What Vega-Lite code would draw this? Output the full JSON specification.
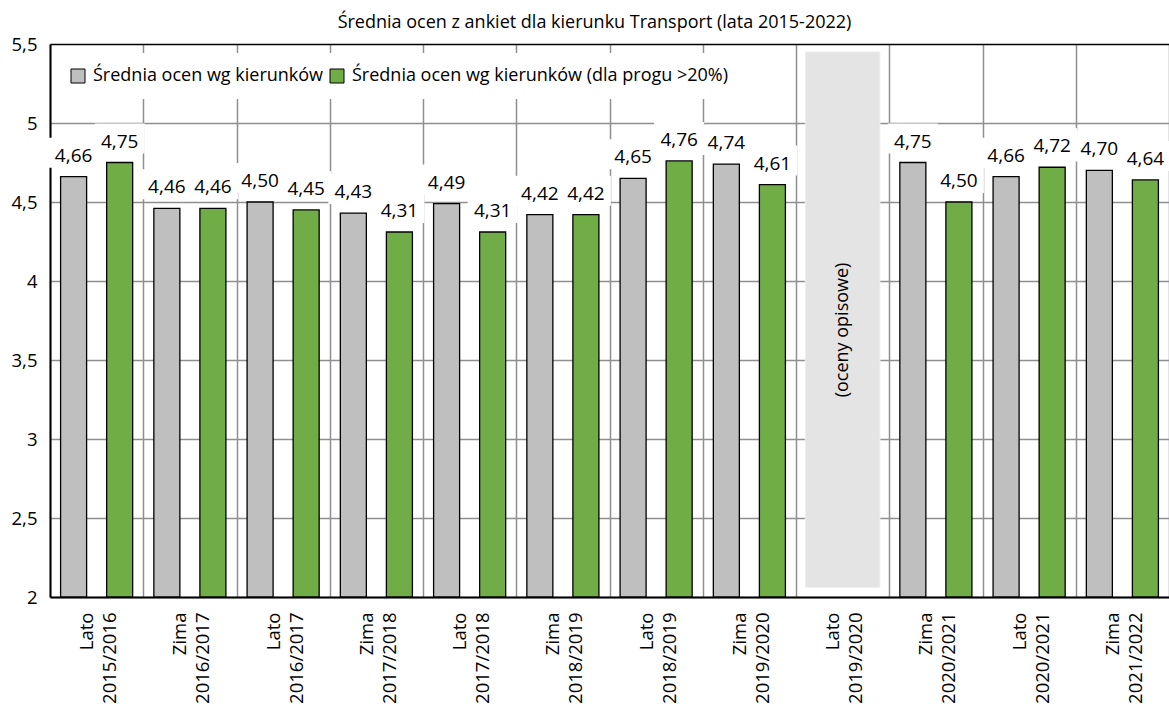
{
  "$schema": "https://vega.github.io/schema/vega-lite/v6.json",
  "autosize": "none",
  "width": 1119,
  "height": 553,
  "padding": {"left": 50, "top": 44, "right": 0, "bottom": 110},
  "background": "white",
  "title": {
    "text": "Średnia ocen z ankiet dla kierunku Transport (lata 2015-2022)",
    "font": "Open Sans",
    "fontSize": 18,
    "fontWeight": "normal",
    "color": "black",
    "anchor": "middle",
    "offset": 3,
    "dx": -15
  },
  "config": {
    "locale": {"number": {"decimal": ",", "thousands": " ", "grouping": [3], "currency": ["", ""]}},
    "view": {"stroke": null},
    "font": "Open Sans"
  },
  "data": {
    "values": [
      {"cat": "Lato 2015/2016", "series": "Średnia ocen wg kierunków", "value": 4.66},
      {"cat": "Lato 2015/2016", "series": "Średnia ocen wg kierunków (dla progu >20%)", "value": 4.75},
      {"cat": "Zima 2016/2017", "series": "Średnia ocen wg kierunków", "value": 4.46},
      {"cat": "Zima 2016/2017", "series": "Średnia ocen wg kierunków (dla progu >20%)", "value": 4.46},
      {"cat": "Lato 2016/2017", "series": "Średnia ocen wg kierunków", "value": 4.50},
      {"cat": "Lato 2016/2017", "series": "Średnia ocen wg kierunków (dla progu >20%)", "value": 4.45},
      {"cat": "Zima 2017/2018", "series": "Średnia ocen wg kierunków", "value": 4.43},
      {"cat": "Zima 2017/2018", "series": "Średnia ocen wg kierunków (dla progu >20%)", "value": 4.31},
      {"cat": "Lato 2017/2018", "series": "Średnia ocen wg kierunków", "value": 4.49},
      {"cat": "Lato 2017/2018", "series": "Średnia ocen wg kierunków (dla progu >20%)", "value": 4.31},
      {"cat": "Zima 2018/2019", "series": "Średnia ocen wg kierunków", "value": 4.42},
      {"cat": "Zima 2018/2019", "series": "Średnia ocen wg kierunków (dla progu >20%)", "value": 4.42},
      {"cat": "Lato 2018/2019", "series": "Średnia ocen wg kierunków", "value": 4.65},
      {"cat": "Lato 2018/2019", "series": "Średnia ocen wg kierunków (dla progu >20%)", "value": 4.76},
      {"cat": "Zima 2019/2020", "series": "Średnia ocen wg kierunków", "value": 4.74},
      {"cat": "Zima 2019/2020", "series": "Średnia ocen wg kierunków (dla progu >20%)", "value": 4.61},
      {"cat": "Zima 2020/2021", "series": "Średnia ocen wg kierunków", "value": 4.75},
      {"cat": "Zima 2020/2021", "series": "Średnia ocen wg kierunków (dla progu >20%)", "value": 4.50},
      {"cat": "Lato 2020/2021", "series": "Średnia ocen wg kierunków", "value": 4.66},
      {"cat": "Lato 2020/2021", "series": "Średnia ocen wg kierunków (dla progu >20%)", "value": 4.72},
      {"cat": "Zima 2021/2022", "series": "Średnia ocen wg kierunków", "value": 4.70},
      {"cat": "Zima 2021/2022", "series": "Średnia ocen wg kierunków (dla progu >20%)", "value": 4.64}
    ]
  },
  "encoding": {
    "x": {
      "field": "cat",
      "type": "nominal",
      "title": null,
      "sort": null,
      "scale": {
        "domain": ["Lato 2015/2016", "Zima 2016/2017", "Lato 2016/2017", "Zima 2017/2018", "Lato 2017/2018", "Zima 2018/2019", "Lato 2018/2019", "Zima 2019/2020", "Lato 2019/2020", "Zima 2020/2021", "Lato 2020/2021", "Zima 2021/2022"],
        "paddingInner": 0,
        "paddingOuter": 0
      },
      "axis": {
        "tickBand": "extent",
        "grid": true,
        "gridColor": "#8f8f8f",
        "gridWidth": 1.5,
        "ticks": false,
        "tickSize": 0,
        "domainColor": "black",
        "domainWidth": 2,
        "labelAngle": 270,
        "labelAlign": "right",
        "labelBaseline": "middle",
        "labelPadding": 15,
        "labelOffset": -10,
        "labelFont": "Open Sans",
        "labelFontSize": 18.5,
        "labelColor": "black",
        "labelLineHeight": 23,
        "labelOverlap": false,
        "labelBound": false,
        "labelFlush": false,
        "labelLimit": 300,
        "labelExpr": "[split(datum.label, ' ')[0] + (split(datum.label, ' ')[0] == 'Lato' ? '\u00a0\u00a0\u00a0\u00a0\u00a0\u00a0' : '\u00a0\u00a0\u00a0\u00a0\u00a0'), split(datum.label, ' ')[1]]"
      }
    }
  },
  "layer": [
    {
      "mark": {"type": "point", "shape": "M-1,-0.6H1V0.6H-1Z", "size": 2500, "filled": true, "fill": "white", "opacity": 1, "strokeWidth": 0, "yOffset": -24},
      "encoding": {
        "xOffset": {"field": "series", "type": "nominal", "scale": {"domain": ["Średnia ocen wg kierunków", "Średnia ocen wg kierunków (dla progu >20%)"], "paddingInner": 0.435, "paddingOuter": 0.23}},
        "y": {"field": "value", "type": "quantitative", "title": null}
      }
    },
    {
      "data": {"values": [{"cat": "Lato 2019/2020", "note": "(oceny opisowe)"}]},
      "mark": {"type": "bar", "fill": "#e4e4e4", "stroke": "#f0f0f0", "strokeWidth": 1, "width": {"band": 0.8}},
      "encoding": {
        "y": {"datum": 5.45, "type": "quantitative", "title": null},
        "y2": {"datum": 2.06}
      }
    },
    {
      "data": {"values": [{"cat": "Lato 2019/2020", "note": "(oceny opisowe)"}]},
      "mark": {"type": "text", "angle": 270, "fontSize": 18, "font": "Open Sans", "color": "black", "align": "center", "baseline": "middle"},
      "encoding": {
        "y": {"datum": 3.69, "type": "quantitative", "title": null},
        "text": {"field": "note"}
      }
    },
    {
      "mark": {"type": "bar", "stroke": "black", "strokeWidth": 1.3, "opacity": 1},
      "encoding": {
        "xOffset": {"field": "series", "type": "nominal", "scale": {"domain": ["Średnia ocen wg kierunków", "Średnia ocen wg kierunków (dla progu >20%)"], "paddingInner": 0.435, "paddingOuter": 0.23}},
        "y": {
          "field": "value",
          "type": "quantitative",
          "title": null,
          "scale": {"domain": [2, 5.5], "nice": false, "zero": false},
          "axis": {
            "values": [2, 2.5, 3, 3.5, 4, 4.5, 5, 5.5],
            "format": ".1~f",
            "grid": true,
            "gridColor": {"condition": {"test": "datum.value == 5.5", "value": "black"}, "value": "#8f8f8f"},
            "gridWidth": 1.5,
            "ticks": false,
            "tickSize": 0,
            "domainColor": "black",
            "domainWidth": 2,
            "labelPadding": 13,
            "labelFont": "Open Sans",
            "labelFontSize": 18.5,
            "labelColor": "black"
          }
        },
        "y2": {"datum": 2},
        "color": {
          "field": "series",
          "type": "nominal",
          "scale": {"domain": ["Średnia ocen wg kierunków", "Średnia ocen wg kierunków (dla progu >20%)"], "range": ["#bfbfbf", "#70ad47"]},
          "legend": {
            "orient": "none",
            "legendX": 5,
            "legendY": 9,
            "direction": "horizontal",
            "title": null,
            "fillColor": "white",
            "padding": 14,
            "symbolType": "square",
            "symbolSize": 196,
            "symbolStrokeColor": "black",
            "symbolStrokeWidth": 1,
            "symbolOpacity": 1,
            "labelFont": "Open Sans",
            "labelFontSize": 18,
            "labelColor": "black",
            "labelOffset": 6,
            "columnPadding": 4,
            "labelLimit": 600
          }
        }
      }
    },
    {
      "mark": {"type": "text", "baseline": "alphabetic", "dy": -15, "fontSize": 19, "font": "Open Sans", "color": "black"},
      "encoding": {
        "xOffset": {"field": "series", "type": "nominal", "scale": {"domain": ["Średnia ocen wg kierunków", "Średnia ocen wg kierunków (dla progu >20%)"], "paddingInner": 0.435, "paddingOuter": 0.23}},
        "y": {"field": "value", "type": "quantitative", "title": null},
        "text": {"field": "value", "type": "quantitative", "format": ".2f"}
      }
    }
  ]
}
